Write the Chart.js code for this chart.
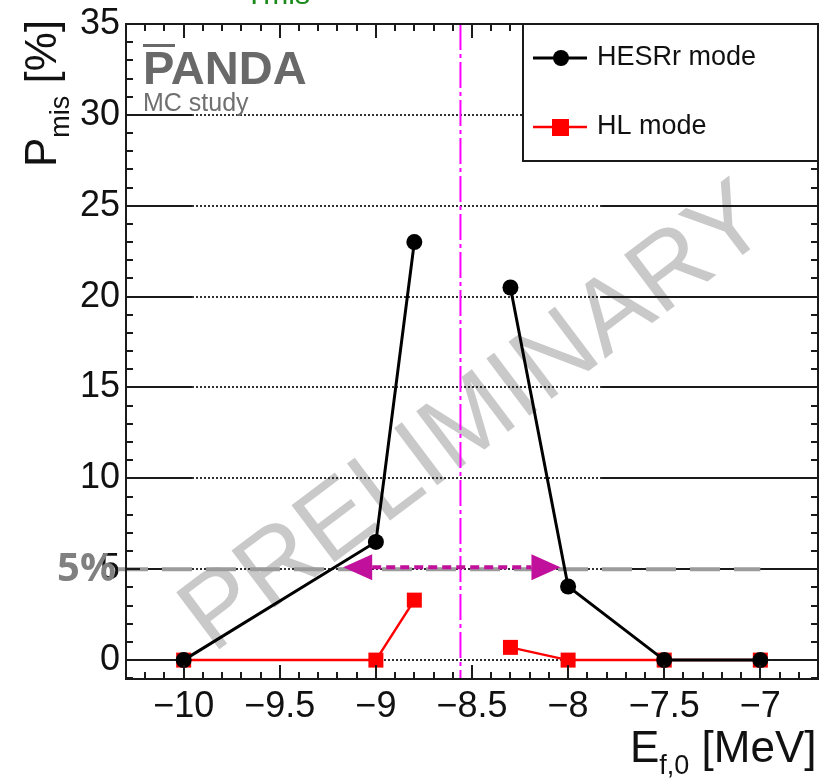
<!DOCTYPE html>
<html><head><meta charset="utf-8">
<script src="https://cdn.jsdelivr.net/npm/chart.js@4.4.0/dist/chart.umd.min.js"></script>
<style>html,body{margin:0;padding:0;background:#fff;overflow:hidden}#wrap{width:829px;height:779px;position:relative}</style>
</head><body><div id="wrap"><canvas id="c" width="829" height="779"></canvas></div>
<script>
// ---- data ----
const energies    = [-10, -9, -8.8, -8.56, -8.3, -8, -7.5, -7];
const hesrValues  = [0, 6.5, 23.0, null, 20.5, 4.05, 0, 0];
const hlValues    = [0, 0, 3.3, null, 0.7, 0, 0, 0];
const seriesNames = ['HESRr mode', 'HL mode'];
const xTickValues = [-10, -9.5, -9, -8.5, -8, -7.5, -7];
const yTickValues = [0, 5, 10, 15, 20, 25, 30, 35];
const thresholdEnergy = -8.56;
const limitPercent = 5;
const arrowRange = [-9.17, -8.04];
const limitLineEnd = -7.0;

const FONT = '"Liberation Sans", Arial, sans-serif';

const decor = {
  id: 'decor',
  beforeDatasetsDraw(chart) {
    const {ctx, chartArea: a, scales: {x, y}} = chart;
    // watermark
    ctx.save();
    ctx.translate(476, 420);
    ctx.rotate(-37 * Math.PI / 180);
    ctx.font = '104px ' + FONT;
    ctx.fillStyle = '#c9c9c9';
    ctx.textAlign = 'center';
    ctx.textBaseline = 'middle';
    ctx.fillText('PRELIMINARY', 0, 0);
    ctx.restore();

    // grid lines
    ctx.save();
    ctx.strokeStyle = '#1a1a1a';
    const s1 = a.left + 66, s2 = a.left + 476;
    yTickValues.filter(v => v < 35).forEach(v => {
      const py = Math.round(y.getPixelForValue(v));
      ctx.setLineDash([]);
      ctx.lineWidth = 2;
      ctx.beginPath(); ctx.moveTo(a.left, py); ctx.lineTo(s1, py); ctx.stroke();
      ctx.beginPath(); ctx.moveTo(s2, py); ctx.lineTo(a.right, py); ctx.stroke();
      ctx.lineWidth = 1.8;
      ctx.setLineDash([2, 2]);
      ctx.beginPath(); ctx.moveTo(s1, py); ctx.lineTo(s2, py); ctx.stroke();
    });
    ctx.restore();

    // PANDA logo
    ctx.save();
    ctx.fillStyle = '#696969';
    ctx.font = 'bold 47px ' + FONT;
    ctx.textBaseline = 'alphabetic';
    ctx.fillText('PANDA', a.left + 17, 84);
    ctx.fillRect(a.left + 17, 44, 32, 3);
    ctx.font = '25px ' + FONT;
    ctx.fillStyle = '#707070';
    ctx.fillText('MC study', a.left + 17, 111);
    ctx.restore();

    // threshold vertical line
    ctx.save();
    const tx = x.getPixelForValue(thresholdEnergy);
    ctx.strokeStyle = '#ff00ff';
    ctx.lineWidth = 2;
    ctx.setLineDash([26, 4, 4, 4]);
    ctx.beginPath(); ctx.moveTo(tx, a.top); ctx.lineTo(tx, a.bottom); ctx.stroke();
    ctx.restore();

    // 5% limit line
    ctx.save();
    const ly = y.getPixelForValue(limitPercent);
    ctx.strokeStyle = '#9b9b9b';
    ctx.lineWidth = 4;
    ctx.setLineDash([30, 14]);
    ctx.beginPath(); ctx.moveTo(a.left - 8, ly); ctx.lineTo(x.getPixelForValue(limitLineEnd), ly); ctx.stroke();
    ctx.restore();

    // 5% label
    ctx.save();
    ctx.fillStyle = '#808080';
    ctx.font = 'bold 40px "Open Sans", ' + FONT;
    ctx.textAlign = 'right';
    ctx.textBaseline = 'middle';
    ctx.fillText('5%', a.left - 10, ly);
    ctx.restore();

    // magenta double arrow
    ctx.save();
    const ax0 = x.getPixelForValue(arrowRange[0]), ax1 = x.getPixelForValue(arrowRange[1]);
    const ay = ly - 2, hl = 29, hw = 13;
    ctx.strokeStyle = '#c0109c';
    ctx.fillStyle = '#c0109c';
    ctx.lineWidth = 4;
    ctx.setLineDash([9, 5]);
    ctx.beginPath(); ctx.moveTo(ax0 + hl, ay); ctx.lineTo(ax1 - hl, ay); ctx.stroke();
    ctx.setLineDash([]);
    ctx.beginPath(); ctx.moveTo(ax0, ay); ctx.lineTo(ax0 + hl, ay - hw); ctx.lineTo(ax0 + hl, ay + hw); ctx.closePath(); ctx.fill();
    ctx.beginPath(); ctx.moveTo(ax1, ay); ctx.lineTo(ax1 - hl, ay - hw); ctx.lineTo(ax1 - hl, ay + hw); ctx.closePath(); ctx.fill();
    ctx.restore();
  },
  afterDraw(chart) {
    const {ctx, chartArea: a, scales: {x, y}} = chart;
    ctx.save();
    ctx.strokeStyle = '#1a1a1a';
    ctx.lineWidth = 2;
    // ticks
    for (let i = -103; i <= -67; i++) {
      const px = Math.round(x.getPixelForValue(i / 10));
      const len = (i % 5 === 0) ? 14 : 7;
      ctx.beginPath();
      ctx.moveTo(px, a.bottom); ctx.lineTo(px, a.bottom - len);
      ctx.moveTo(px, a.top); ctx.lineTo(px, a.top + len);
      ctx.stroke();
    }
    for (let v = -1; v <= 35; v++) {
      const py = Math.round(y.getPixelForValue(v));
      const len = (v % 5 === 0) ? 14 : 7;
      ctx.beginPath();
      ctx.moveTo(a.left, py); ctx.lineTo(a.left + len, py);
      ctx.moveTo(a.right, py); ctx.lineTo(a.right - len, py);
      ctx.stroke();
    }
    // frame
    ctx.strokeRect(a.left, a.top, a.right - a.left, a.bottom - a.top);

    // legend
    const lx = a.right - 295, ly = a.top, lw = 295, lh = 137;
    ctx.fillStyle = '#fff';
    ctx.fillRect(lx, ly, lw, lh);
    ctx.strokeRect(lx, ly, lw, lh);
    const ds = chart.data.datasets;
    const rows = [ly + 34, ly + 103];
    ds.forEach((d, i) => {
      const ry = rows[i];
      ctx.strokeStyle = d.borderColor;
      ctx.lineWidth = d.borderWidth;
      ctx.beginPath(); ctx.moveTo(lx + 10, ry); ctx.lineTo(lx + 64, ry); ctx.stroke();
      ctx.fillStyle = d.pointBackgroundColor;
      if (d.pointStyle === 'circle') {
        ctx.beginPath(); ctx.arc(lx + 38, ry, 8, 0, Math.PI * 2); ctx.fill();
      } else {
        ctx.fillRect(lx + 29, ry - 8, 17, 17);
      }
      ctx.fillStyle = '#111';
      ctx.font = '27px ' + FONT;
      ctx.textBaseline = 'middle';
      ctx.textAlign = 'left';
      ctx.fillText(d.label, lx + 74, ry);
    });

    // axis titles
    ctx.fillStyle = '#111';
    ctx.textBaseline = 'alphabetic';
    ctx.textAlign = 'left';
    // x title
    let cx = 630;
    ctx.font = '44px ' + FONT;
    ctx.fillText('E', cx, 762); cx += ctx.measureText('E').width;
    ctx.font = '27px ' + FONT;
    ctx.fillText('f,0', cx, 774); cx += ctx.measureText('f,0').width;
    ctx.font = '44px ' + FONT;
    ctx.fillText(' [MeV]', cx, 762);
    // y title
    ctx.save();
    ctx.translate(56, 167);
    ctx.rotate(-Math.PI / 2);
    let cy = 0;
    ctx.font = '44px ' + FONT;
    ctx.fillText('P', cy, 0); cy += ctx.measureText('P').width;
    ctx.font = '27px ' + FONT;
    ctx.fillText('mis', cy, 13); cy += ctx.measureText('mis').width;
    ctx.font = '44px ' + FONT;
    ctx.fillText(' [%]', cy, 0);
    ctx.restore();

    // cropped green title at top
    ctx.fillStyle = '#1a8a1a';
    ctx.font = '30px ' + FONT;
    ctx.fillText('Tmis', 245, 4);
    ctx.restore();
  }
};

const tickFont = {family: FONT, size: 36, lineHeight: 1};
new Chart(document.getElementById('c'), {
  type: 'line',
  data: {
    datasets: [
      {label: seriesNames[0], data: energies.map((e, i) => ({x: e, y: hesrValues[i]})),
       borderColor: '#000', borderWidth: 3, pointStyle: 'circle', pointRadius: 8,
       pointBackgroundColor: '#000', pointBorderWidth: 0, spanGaps: false, tension: 0},
      {label: seriesNames[1], data: energies.map((e, i) => ({x: e, y: hlValues[i]})),
       borderColor: '#ff0000', borderWidth: 2.5, pointStyle: 'rect', pointRadius: 10.6,
       pointBackgroundColor: '#ff0000', pointBorderWidth: 0, spanGaps: false, tension: 0}
    ]
  },
  options: {
    responsive: false, animation: false, devicePixelRatio: 1,
    layout: {padding: {top: 22, right: 11, left: 0, bottom: 0}},
    plugins: {legend: {display: false}, tooltip: {enabled: false}},
    scales: {
      x: {type: 'linear', min: -10.3, max: -6.7,
          grid: {display: false, drawTicks: false}, border: {display: false},
          afterBuildTicks: s => { s.ticks = xTickValues.map(v => ({value: v})); },
          afterFit: s => { s.height = 100; },
          ticks: {padding: 10, color: '#111', font: tickFont, maxRotation: 0, autoSkip: false,
                  callback: v => String(v).replace('-', '\u2212')}},
      y: {type: 'linear', min: -1.04, max: 35,
          grid: {display: false, drawTicks: false}, border: {display: false},
          afterBuildTicks: s => { s.ticks = yTickValues.map(v => ({value: v})); },
          afterFit: s => { s.width = 126; },
          ticks: {padding: 6, color: '#111', font: tickFont, autoSkip: false}}
    }
  },
  plugins: [decor]
});
</script>
</body></html>
